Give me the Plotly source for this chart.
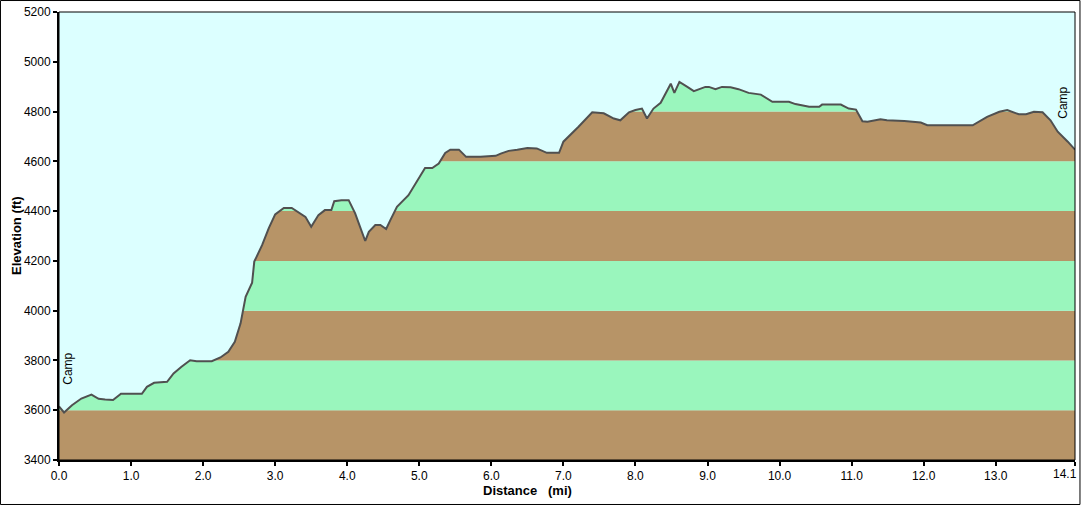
import numpy as np
import plotly.graph_objects as go

# Trail profile
distance_mi = [0.0, 0.07, 0.18, 0.31, 0.45, 0.55, 0.64, 0.75, 0.86, 1.15, 1.22, 1.32, 1.50, 1.59,
               1.70, 1.82, 1.91, 2.12, 2.24, 2.35, 2.44, 2.52, 2.59, 2.68, 2.71, 2.82, 2.91, 3.00,
               3.12, 3.23, 3.42, 3.50, 3.60, 3.69, 3.78, 3.82, 3.92, 4.02, 4.11, 4.18, 4.25, 4.30,
               4.39, 4.46, 4.54, 4.60, 4.69, 4.85, 4.97, 5.08, 5.18, 5.27, 5.36, 5.43, 5.55, 5.65,
               5.85, 6.06, 6.13, 6.24, 6.36, 6.50, 6.63, 6.77, 6.94, 7.00, 7.21, 7.40, 7.56, 7.70,
               7.79, 7.91, 8.00, 8.09, 8.16, 8.25, 8.35, 8.49, 8.54, 8.61, 8.72, 8.81, 8.97, 9.02,
               9.11, 9.20, 9.32, 9.43, 9.57, 9.74, 9.90, 10.13, 10.22, 10.41, 10.55, 10.59, 10.85,
               10.96, 11.06, 11.15, 11.22, 11.40, 11.49, 11.73, 11.96, 12.05, 12.68, 12.77, 12.88,
               13.05, 13.16, 13.32, 13.42, 13.53, 13.65, 13.76, 13.86, 14.00, 14.10]
elevation_ft = [3615, 3591, 3620, 3647, 3663, 3646, 3643, 3641, 3666, 3666, 3694, 3710, 3714, 3748,
                3775, 3801, 3797, 3797, 3812, 3835, 3875, 3949, 4056, 4112, 4197, 4264, 4331, 4387,
                4413, 4413, 4377, 4337, 4384, 4404, 4404, 4440, 4444, 4444, 4391, 4337, 4280, 4317,
                4344, 4344, 4328, 4365, 4417, 4464, 4518, 4573, 4573, 4591, 4634, 4647, 4647, 4618,
                4618, 4622, 4631, 4642, 4647, 4654, 4652, 4634, 4634, 4679, 4739, 4797, 4793, 4772,
                4765, 4797, 4806, 4812, 4772, 4812, 4835, 4912, 4875, 4919, 4899, 4882, 4899, 4899,
                4890, 4899, 4898, 4890, 4875, 4868, 4839, 4839, 4830, 4819, 4819, 4828, 4828,
                4812, 4808, 4761, 4759, 4769, 4765, 4762, 4756, 4745, 4745, 4759, 4779,
                4799, 4806, 4789, 4789, 4799, 4797, 4765, 4719, 4679, 4647]

# Waypoints
waypoint_names = ['Camp', 'Camp']
waypoint_mi = [0.12, 13.94]
waypoint_ft = [3693, 4765]

# Axis ticks
y_ticks = [3400, 3600, 3800, 4000, 4200, 4400, 4600, 4800, 5000, 5200]
x_ticks = [0, 1, 2, 3, 4, 5, 6, 7, 8, 9, 10, 11, 12, 13, 14.1]
x_tick_labels = ['0.0', '1.0', '2.0', '3.0', '4.0', '5.0', '6.0', '7.0', '8.0', '9.0',
                 '10.0', '11.0', '12.0', '13.0', '14.1']

BROWN = '#b79467'
GREEN = '#9af6bd'
SKY = '#dcffff'
FONT = 'Liberation Sans'

fig = go.Figure()

# ceiling of the plot, used as the upper edge of the sky fill
fig.add_trace(go.Scatter(x=distance_mi, y=np.full(len(distance_mi), y_ticks[-1]),
                         mode='lines', line=dict(width=0), hoverinfo='skip', showlegend=False))
# profile line, sky filled between it and the ceiling
fig.add_trace(go.Scatter(x=distance_mi, y=elevation_ft, mode='lines',
                         line=dict(color='#505050', width=2), fill='tonexty', fillcolor=SKY,
                         showlegend=False))

# alternating elevation bands behind the terrain
for i in range(len(y_ticks) - 1):
    fig.add_shape(type='rect', xref='paper', yref='y', x0=0, x1=1,
                  y0=y_ticks[i], y1=y_ticks[i + 1], line=dict(width=0),
                  fillcolor=BROWN if i % 2 == 0 else GREEN, layer='below')

for name, xm, ym in zip(waypoint_names, waypoint_mi, waypoint_ft):
    fig.add_annotation(x=xm, y=ym, text=name, textangle=-90, showarrow=False,
                       xanchor='center', yanchor='bottom',
                       font=dict(family=FONT, size=12, color='#000000'))

# last tick label sits at the right edge, so it is drawn right-aligned by hand
fig.add_annotation(x=x_ticks[-1], xref='x', y=0, yref='paper', text=x_tick_labels[-1],
                   showarrow=False, xanchor='right', yanchor='top', xshift=4, yshift=-5,
                   font=dict(family=FONT, size=12, color='#000000'))

# axis titles
fig.add_annotation(xref='paper', yref='paper', x=0.4616, y=-0.069, text='<b>Distance\u00a0\u00a0\u00a0(mi)</b>',
                   showarrow=False, xanchor='center', yanchor='middle',
                   font=dict(family=FONT, size=13, color='#000000'))
fig.add_annotation(xref='paper', yref='paper', x=-0.0423, y=0.5, text='<b>Elevation (ft)</b>',
                   textangle=-90, showarrow=False, xanchor='center', yanchor='middle',
                   font=dict(family=FONT, size=13, color='#000000'))

# thin frame around plot area and around the whole picture
fig.add_shape(type='rect', xref='paper', yref='paper', x0=0, x1=1, y0=0, y1=1,
              line=dict(color='#000000', width=1), layer='above')
fig.add_shape(type='rect', xref='paper', yref='paper', x0=-0.0576, x1=1.0049, y0=-0.0993, y1=1.0256,
              line=dict(color='#000000', width=1), layer='above')

fig.update_layout(
    width=1081, height=505,
    margin=dict(l=59, r=6, t=12, b=45, autoexpand=False),
    paper_bgcolor='#ffffff',
    plot_bgcolor=SKY,
    font=dict(family=FONT, size=12, color='#000000'),
)
fig.update_xaxes(range=[0, 14.1], tickvals=x_ticks, ticktext=x_tick_labels[:-1] + [''], tickangle=0,
                 automargin=False,
                 showgrid=False, zeroline=False, showline=True, linecolor='#000000', linewidth=2,
                 ticks='outside', ticklen=4, tickcolor='#000000', tickwidth=2)
fig.update_yaxes(range=[3400, 5200], tickvals=y_ticks, automargin=False,
                 showgrid=False, zeroline=False, showline=True, linecolor='#000000', linewidth=2,
                 ticks='outside', ticklen=4, tickcolor='#000000', tickwidth=2)

# drop the default page margin so the figure sits at the window's corner
fig.write_html("out.html", config={'displayModeBar': False},
               post_script="document.body.style.margin='0';")
